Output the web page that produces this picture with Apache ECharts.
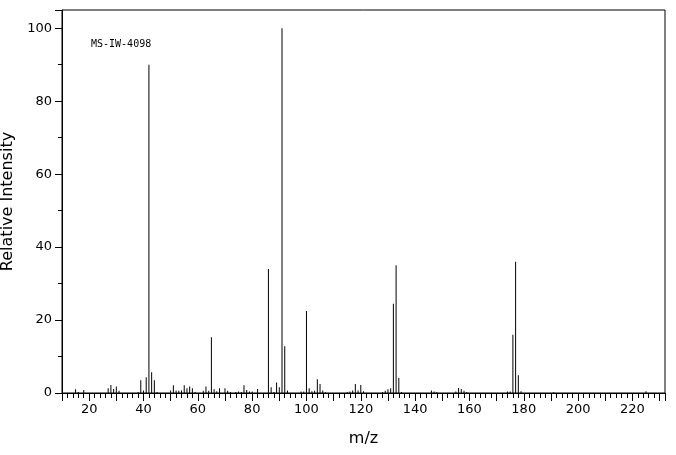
<!DOCTYPE html>
<html><head><meta charset="utf-8">
<script src="https://cdn.jsdelivr.net/npm/echarts@6/dist/echarts.min.js"></script>
<style>html,body{margin:0;background:#fff}#c{width:676px;height:455px}</style>
</head><body><div id="c"></div>
<script>
const mz = [15,16,18,27,28,29,30,31,38,39,40,41,42,43,44,45,50,51,52,53,54,55,56,57,58,59,62,63,64,65,66,67,68,70,71,72,74,75,76,77,78,79,80,82,86,87,88,89,90,91,92,93,98,99,100,101,102,103,104,105,106,107,115,116,117,118,119,120,121,128,129,130,131,132,133,134,135,146,147,148,155,156,157,158,159,174,175,176,177,178,179,191,225];
const intensity = [1,0.3,0.8,1.3,2.2,1.1,1.8,0.6,0.3,3.5,0.7,4.3,90,5.7,3.5,0.3,0.7,2.1,0.7,0.6,0.7,2.1,1.3,1.8,1.3,0.3,0.6,1.8,0.6,15.3,1,0.5,1.3,1.3,0.6,0.3,0.3,0.4,0.3,2.1,0.8,0.4,0.4,1.1,34,1.6,0.3,2.9,1.6,100,12.8,0.7,0.4,0.4,22.5,1.3,0.5,0.6,3.8,2.5,0.7,0.2,0.3,0.4,0.7,2.5,0.7,2.2,0.5,0.3,0.6,1,1.3,24.5,35,4.1,0.3,0.7,0.4,0.3,0.4,1.4,1.1,0.6,0.3,0.4,0.4,16,36,4.9,0.5,0.2,0.5];
const yTicks = [0,20,40,60,80,100];
const title = 'MS-IW-4098';
const chart = echarts.init(document.getElementById('c'));
const font = 'DejaVu Sans';
chart.setOption({
  animation:false,
  grid:{left:62,right:11,top:10,bottom:62,show:true,borderColor:'#000',borderWidth:1,containLabel:false,outerBoundsMode:'none'},
  title:{text:title,left:86,top:34,textStyle:{fontFamily:'DejaVu Sans Mono',fontSize:10,fontWeight:'normal',color:'#000'}},
  xAxis:{type:'value',min:10,max:232,interval:10,
    name:'m/z',nameLocation:'middle',nameGap:38,nameTextStyle:{fontFamily:font,fontSize:16,color:'#000'},
    axisLine:{lineStyle:{color:'#000'}},
    axisTick:{length:8,lineStyle:{color:'#000'}},
    minorTick:{show:true,splitNumber:5,length:5,lineStyle:{color:'#000'}},
    splitLine:{show:false},
    axisLabel:{showMaxLabel:false,color:'#000',fontFamily:font,fontSize:13,margin:10,
      formatter:v=>(v%20===0?String(v):'')}},
  yAxis:{type:'value',min:0,max:105,interval:20,
    name:'Relative Intensity',nameLocation:'middle',nameGap:41,nameTextStyle:{fontFamily:font,fontSize:16,color:'#000'},
    axisLine:{lineStyle:{color:'#000'}},
    axisTick:{length:7,lineStyle:{color:'#000'}},
    minorTick:{show:true,splitNumber:2,length:4,lineStyle:{color:'#000'}},
    splitLine:{show:false},
    axisLabel:{showMaxLabel:false,color:'#000',fontFamily:font,fontSize:13,margin:10,
      formatter:v=>(yTicks.includes(v)?String(v):'')}},
  series:[{type:'bar',barWidth:1,itemStyle:{color:'#000'},
    data:mz.map((m,i)=>[m,intensity[i]])}]
});
</script></body></html>
